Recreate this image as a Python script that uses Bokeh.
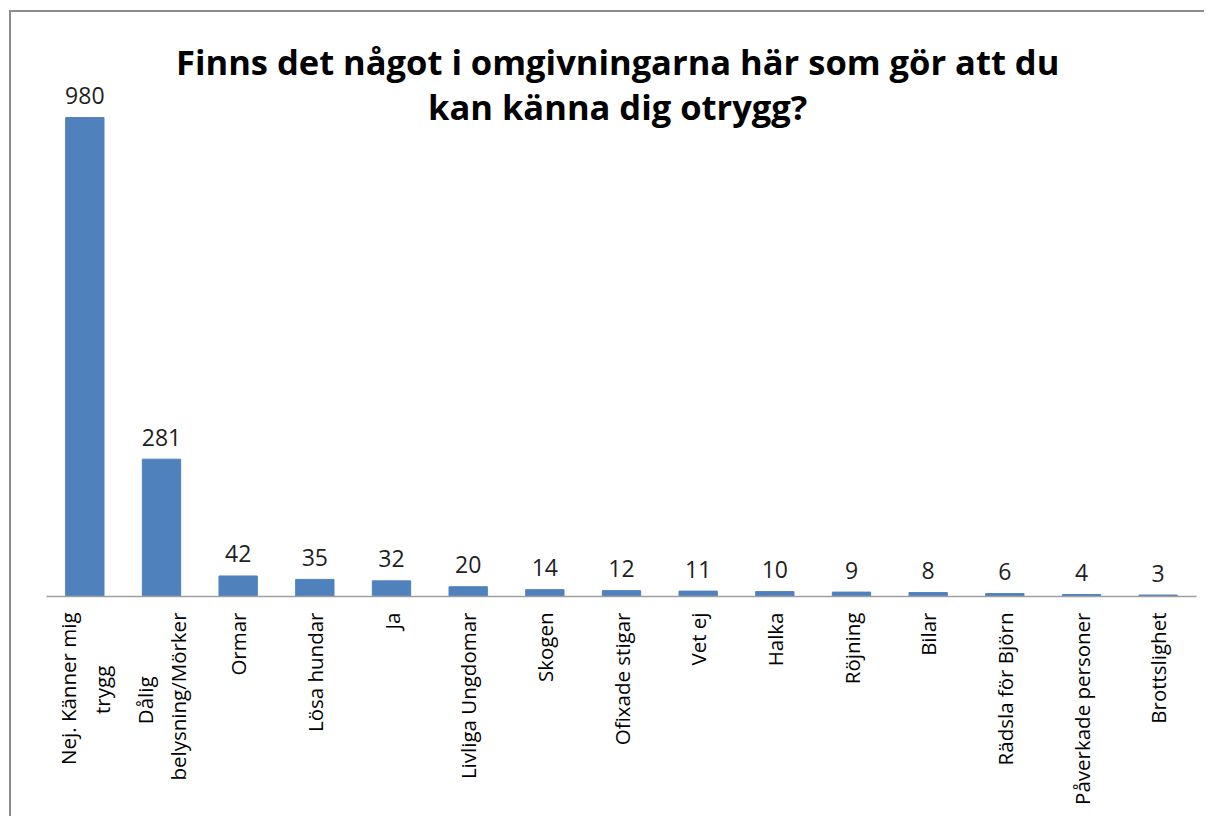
import math
from bokeh.plotting import figure
from bokeh.models import ColumnDataSource, FactorRange, Range1d, Label
from bokeh.core.properties import value
from bokeh.embed import file_html
from bokeh.resources import INLINE

categories = ["Nej. Känner mig\ntrygg", "Dålig\nbelysning/Mörker", "Ormar", "Lösa hundar", "Ja",
              "Livliga Ungdomar", "Skogen", "Ofixade stigar", "Vet ej", "Halka", "Röjning",
              "Bilar", "Rädsla för Björn", "Påverkade personer", "Brottslighet"]
counts = [980, 281, 42, 35, 32, 20, 14, 12, 11, 10, 9, 8, 6, 4, 3]
title_lines = ["Finns det något i omgivningarna här som gör att du", "kan känna dig otrygg?"]

FONT = "Open Sans"
BAR = "#4F81BD"
NBSP = "\u00a0"
# extra no-break spaces so that a short second line sits centred under the first one
PAD = {"trygg": 10, "Dålig": 12}


def centred(label):
    if "\n" not in label:
        return label
    a, b = label.split("\n")
    return a + NBSP * PAD.get(a, 0) + "\n" + b + NBSP * PAD.get(b, 0)


factors = [centred(c) for c in categories]
src = ColumnDataSource(dict(cat=factors, val=counts, lab=[str(v) for v in counts]))

p = figure(width=1195, height=806, output_backend="svg", toolbar_location=None,
           x_range=FactorRange(factors=factors, range_padding=0),
           y_range=Range1d(0, 1195),
           min_border_left=35, min_border_right=10, min_border_top=0, min_border_bottom=222)
p.styles = {"margin-left": "11px", "margin-top": "12px",
            "box-shadow": "-2px -2px 0px 0px #8c8c8c"}

p.vbar(x="cat", top="val", width=0.5, source=src, fill_color=BAR, line_color=BAR)
p.text(x="cat", y="val", text="lab", source=src, text_align="center", text_baseline="alphabetic",
       y_offset=-22, text_font=value(FONT), text_font_size="23px", text_color="#1f1f1f")

for t, yv in zip(title_lines, [1094, 1002]):
    p.add_layout(Label(x=7.45, y=yv, text=t, text_align="center", text_baseline="alphabetic",
                       text_font=FONT, text_font_size="34.5px", text_font_style="bold",
                       text_color="#000000"))

p.yaxis.visible = False
p.xgrid.grid_line_color = None
p.ygrid.grid_line_color = None
p.outline_line_color = None
p.xaxis.axis_line_color = "#a0a0a0"
p.xaxis.axis_line_width = 1.5
p.xaxis.major_tick_line_color = None
p.xaxis.minor_tick_line_color = None
p.xaxis.major_label_orientation = math.pi / 2
p.xaxis.major_label_standoff = 10
p.xaxis.major_label_text_font = FONT
p.xaxis.major_label_text_font_size = "20.5px"
p.xaxis.major_label_text_color = "#000000"

open("out.html", "w").write(file_html(p, INLINE))
